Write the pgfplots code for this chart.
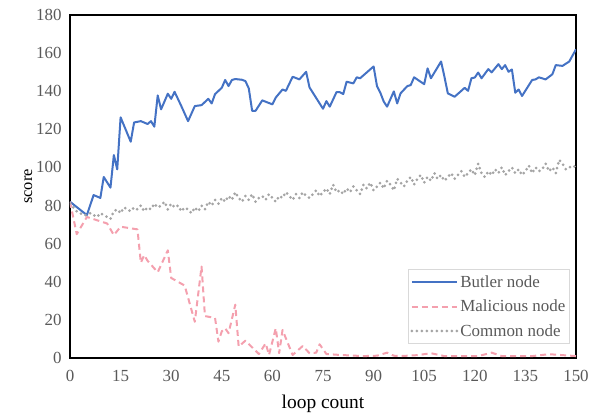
\documentclass[border=0pt]{standalone}
\usepackage{fontspec}
\setmainfont{Liberation Serif}
\usepackage{pgfplots}
\pgfplotsset{compat=1.18}
\definecolor{butler}{HTML}{4472C4}
\definecolor{malic}{HTML}{F4A0AE}
\definecolor{common}{HTML}{A5A5A5}
\definecolor{tickgray}{HTML}{595959}
\definecolor{leggray}{HTML}{D9D9D9}
\begin{document}
\begin{tikzpicture}
\begin{axis}[
  at={(0,0)}, anchor=south west,
  scale only axis, width=506bp, height=343bp,
  xmin=0, xmax=150, ymin=0, ymax=180,
  xtick={0,15,...,150}, ytick={0,20,...,180},
  major tick length=0pt,
  axis line style={black, line width=1.1pt},
  /pgf/number format/assume math mode=true,
  ticklabel style={font=\fontsize{17}{19}\selectfont, text=tickgray},
  xticklabel style={yshift=-9bp},
  yticklabel style={xshift=-5bp},
  xlabel={loop count}, ylabel={score},
  xlabel style={font=\fontsize{19.5}{21}\selectfont, yshift=-6bp},
  ylabel style={font=\fontsize{16.5}{19}\selectfont, yshift=-3bp},
  legend cell align=left,
  legend style={at={(0.668,0.041)}, anchor=south west, draw=leggray, line width=0.8pt,
    font=\fontsize{17}{20}\selectfont, text=tickgray, inner xsep=2bp, inner ysep=4bp,
    row sep=7bp},
  legend image code/.code={\draw[#1] (0bp,0bp) -- (45bp,0bp);},
]
\addplot[butler, line width=2bp, line join=round] coordinates {
(0,82) (5,75) (7,85.5) (9,84) (10,95) (12,89.4) (13,106.5) (14,99) (15,126.3) (18,113.5)
(19,123.6) (21,124.3) (23,122.8) (24,124.3) (25,121.4) (26,137.8) (27,130.5) (29,138.7)
(30,136) (31,139.7) (33,132.2) (35,124.3) (37,132.2) (39,132.7) (41,136) (42,133.6) (43,138.5)
(45,141.8) (46,145.9) (47,142.7) (48,145.9) (49,146.4) (51,146) (52,145.3) (53,141.5) (54,129.7)
(55,129.7) (57,135.2) (60,133.1) (61,136.7) (63,140.9) (64,140.2) (66,147.6) (68,146.2)
(70,150.2) (71,142) (75,130.8) (76,134.8) (77,131.9) (79,139.5) (80,139.5) (81,138.5) (82,145)
(84,144.1) (85,147.3) (86,146.8) (90,153) (91,142.7) (92,139.2) (93,134.6) (94,131.9) (96,139.9)
(97,133.6) (98,138.9) (100,142.7) (101,143.2) (102,147.3) (105,143.7) (106,152) (107,146.8)
(110,155.6) (111,147.6) (112,138.9) (114,137.1) (116,140.2) (117,141.8) (118,140.2) (119,146.8)
(120,147.2) (121,149.8) (122,146.8) (124,151.6) (125,149.9) (127,154.2) (128,151.6) (129,153.7)
(130,150.2) (131,151.4) (132,139.2) (133,140.9) (134,137.5) (137,145.9) (138,146.2) (139,147.3)
(141,146.2) (143,148.9) (144,153.7) (146,153.3) (148,155.6) (150,162)
};
\addlegendentry{Butler node}
\addplot[malic, line width=2bp, dash pattern=on 6bp off 4bp, line join=round] coordinates {
(0,82) (2,65) (5,74) (11,70.6) (13,64.5) (15,68.9) (20,67.5) (21,50) (22,54) (23,51) (26,45)
(29,56.5) (30,42) (34,38) (37,19) (39,48) (40,22) (43,21) (44,8.6) (45,14) (46,15.6) (47,13)
(49,28) (50,6) (52,9.1) (56,2.1) (58,7.7) (59,1.6) (61,15.6) (62,2.5) (63,14.7) (66,1.6)
(69,6.3) (71,2.5) (73,2.8) (74,7.2) (76,2.1) (80,1.6) (87,1) (91,1.2) (94,2.8) (96,1.2)
(98,1) (103,1.5) (107,2.5) (111,1) (121,1) (125,2.8) (128,1) (137,1) (142,2) (146,1.5) (150,1)
};
\addlegendentry{Malicious node}
\addplot[common, line width=3bp, dash pattern=on 0bp off 5bp, line cap=round] coordinates {
(0,81) (1,79) (2,77) (3,76) (4,75) (5,75) (6,76) (7,75) (8,74) (9,76) (10,75)
(11,74) (12,73) (13,77) (14,78) (15,76) (16,79) (17,78) (18,77) (19,79) (20,78)
(21,80) (22,77) (23,79) (24,78) (25,81) (26,79) (27,80) (28,82) (29,78) (30,81)
(31,79) (32,80) (33,77) (34,79) (35,78) (36,76) (37,79) (38,77) (39,80) (40,78)
(41,82) (42,80) (43,83) (44,81) (45,84) (46,82) (47,85) (48,83) (49,87) (50,84)
(51,82) (52,85) (53,83) (54,86) (55,82) (56,84) (57,85) (58,83) (59,86) (60,84)
(61,82) (62,85) (63,84) (64,87) (65,85) (66,83) (67,86) (68,84) (69,87) (70,85)
(71,84) (72,86) (73,88) (74,85) (75,87) (76,89) (77,86) (78,91) (79,87) (80,88)
(81,86) (82,89) (83,87) (84,90) (85,88) (86,86) (87,91) (88,89) (89,92) (90,88)
(91,90) (92,92) (93,89) (94,93) (95,91) (96,88) (97,94) (98,92) (99,90) (100,93)
(101,95) (102,91) (103,94) (104,96) (105,92) (106,95) (107,93) (108,97) (109,94) (110,96)
(111,93) (112,95) (113,97) (114,94) (115,96) (116,98) (117,95) (118,97) (119,99) (120,96)
(121,102) (122,97) (123,95) (124,98) (125,96) (126,99) (127,97) (128,100) (129,96) (130,98)
(131,100) (132,97) (133,99) (134,96) (135,98) (136,101) (137,97) (138,100) (139,98) (140,99)
(141,102) (142,98) (143,100) (144,97) (145,104) (146,102) (147,99) (148,100) (149,101) (150,100)
};
\addlegendentry{Common node}
\end{axis}
\pgfresetboundingbox
\path[use as bounding box] (-70bp,-58bp) rectangle (528bp,358bp);
\end{tikzpicture}
\end{document}
